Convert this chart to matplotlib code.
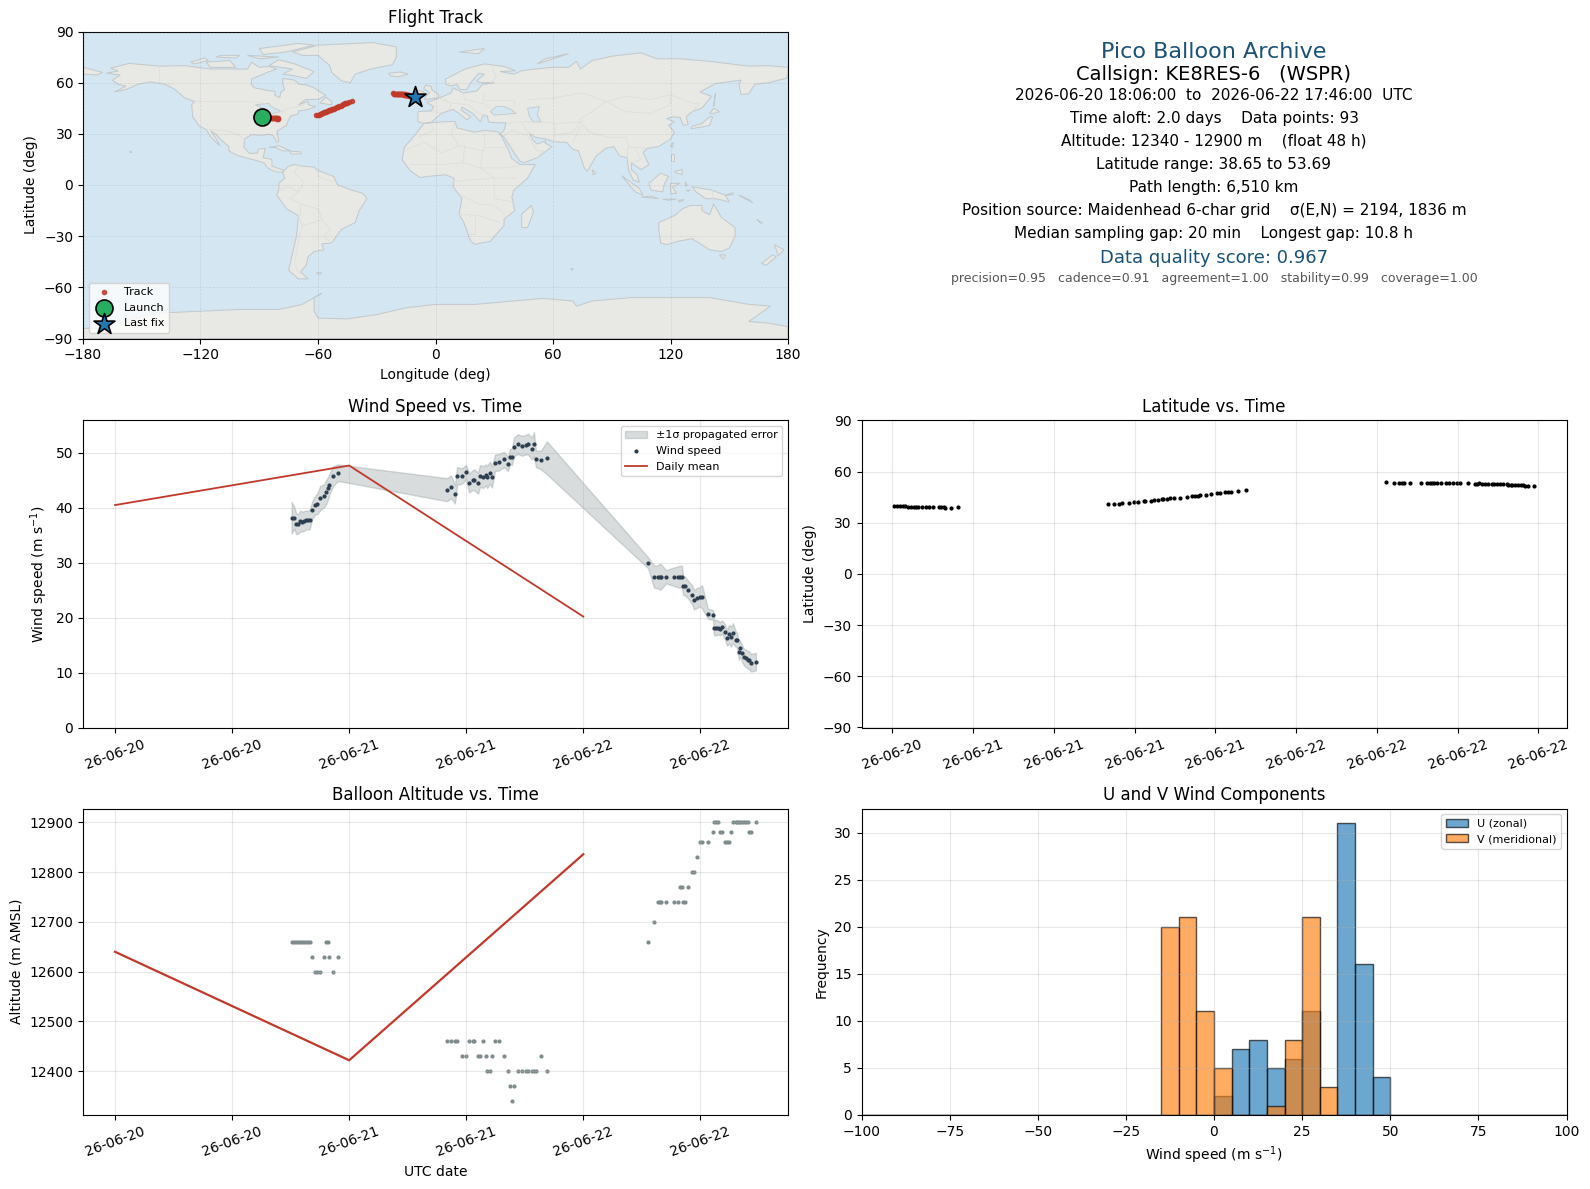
from datetime import datetime, timedelta
import matplotlib
matplotlib.use('Agg')
import matplotlib.pyplot as plt
import matplotlib.dates as mdates

# hours since 2026-06-20 00:00 UTC
t_hours = [
  18.10, 18.37, 18.57, 18.78, 18.98, 19.19, 19.39, 19.60, 19.80, 19.94,
  20.21, 20.52, 20.72, 21.03, 21.44, 21.65, 21.85, 21.95, 22.36, 22.87,
  34.03, 34.44, 34.85, 35.06, 35.57, 35.98, 36.29, 36.70, 36.80, 37.21,
  37.41, 37.72, 38.03, 38.13, 38.44, 38.64, 38.95, 39.36, 39.87, 40.28,
  40.48, 40.69, 40.89, 41.30, 41.71, 42.12, 42.33, 42.74, 42.94, 43.15,
  43.66, 44.27,
  54.64, 55.26, 55.67, 55.87, 56.01, 56.49, 57.31, 57.71, 57.92, 58.12,
  58.23, 58.43, 58.74, 59.15, 59.35, 59.66, 59.97, 60.17, 60.78, 61.30,
  61.40, 61.60, 61.81, 62.01, 62.22, 62.53, 62.73, 62.94, 63.14, 63.34,
  63.65, 63.75, 63.96, 64.06, 64.27, 64.47, 64.68, 64.88, 64.98, 65.19,
  65.70]
wind = [
  38.2, 38.2, 37.1, 37.1, 37.6, 37.5, 37.6, 37.8, 37.8, 37.8,
  39.6, 40.5, 40.7, 41.8, 42.2, 42.9, 43.6, 44.2, 45.8, 46.4,
  43.3, 43.8, 42.5, 45.8, 45.8, 46.5, 44.5, 45.1, 45.1, 44.5,
  45.8, 45.6, 46.0, 45.6, 46.4, 45.6, 48.2, 48.3, 48.8, 48.0,
  49.3, 49.3, 51.1, 51.6, 51.3, 51.5, 51.6, 50.8, 51.6, 48.9,
  48.7, 49.1,
  30.0, 27.45, 27.45, 27.45, 27.45, 27.45, 27.45, 27.45, 27.45, 27.45,
  25.8, 25.8, 25.1, 24.2, 23.3, 23.6, 23.8, 23.8, 20.7, 20.5,
  18.2, 18.2, 18.2, 18.0, 18.3, 17.4, 16.3, 17.0, 16.5, 17.2,
  16.0, 16.0, 13.8, 14.4, 13.5, 12.8, 12.6, 12.3, 12.3, 11.8,
  12.0]
wind_err = [
  2.9, 2.0, 1.9, 1.8, 1.9, 1.8, 1.8, 1.7, 1.7, 1.8,
  1.6, 1.7, 1.9, 2.2, 2.1, 2.2, 2.0, 1.9, 1.8, 1.5,
  2.1, 2.1, 1.7, 1.6, 1.4, 1.3, 1.7, 1.8, 1.9, 1.9,
  2.0, 2.0, 1.9, 2.0, 2.0, 1.9, 1.5, 1.5, 1.4, 1.3,
  1.4, 1.5, 1.7, 1.8, 1.8, 1.8, 1.9, 2.0, 2.2, 1.5,
  1.7, 3.0,
  1.0, 2.0, 2.1, 2.4, 2.2, 1.2, 1.7, 1.9, 2.0, 2.0,
  1.7, 1.7, 1.6, 1.7, 1.8, 1.8, 1.8, 2.1, 0.9, 0.9,
  1.4, 1.4, 1.3, 1.2, 1.2, 1.4, 1.4, 1.7, 1.8, 1.8,
  1.4, 1.3, 1.5, 1.5, 1.5, 1.5, 1.6, 1.6, 1.6, 1.6,
  1.6]
altitude = [
  12660, 12660, 12660, 12660, 12660, 12660, 12660, 12660, 12660, 12660,
  12630, 12600, 12600, 12600, 12630, 12660, 12660, 12630, 12600, 12630,
  12460, 12460, 12460, 12460, 12430, 12430, 12460, 12460, 12460, 12430,
  12430, 12460, 12430, 12400, 12400, 12430, 12460, 12460, 12430, 12400,
  12370, 12340, 12370, 12400, 12400, 12400, 12400, 12400, 12400, 12400,
  12430, 12400,
  12660, 12700, 12740, 12740, 12740, 12740, 12740, 12740, 12770, 12770,
  12740, 12740, 12770, 12800, 12800, 12830, 12860, 12860, 12860, 12880,
  12900, 12900, 12900, 12880, 12880, 12860, 12860, 12860, 12880, 12900,
  12900, 12900, 12900, 12900, 12900, 12900, 12900, 12900, 12880, 12880,
  12900]
latitude = [
  39.6, 39.6, 39.6, 39.6, 39.6, 39.5, 39.5, 39.5, 39.5, 39.4,
  39.2, 39.1, 39.0, 39.0, 39.1, 39.1, 39.1, 38.9, 38.9, 39.0,
  41.2, 41.3, 41.3, 41.6, 41.8, 42.2, 42.3, 42.7, 42.8, 43.0,
  43.2, 43.5, 43.8, 43.9, 44.1, 44.3, 44.5, 44.7, 45.2, 45.5,
  45.7, 46.0, 46.3, 46.6, 47.0, 47.5, 47.7, 47.9, 48.0, 48.2,
  48.6, 49.3,
  53.7, 53.6, 53.6, 53.6, 53.5, 53.6, 53.6, 53.6, 53.6, 53.6,
  53.6, 53.6, 53.6, 53.5, 53.6, 53.5, 53.6, 53.5, 53.5, 53.0,
  53.0, 53.1, 53.0, 53.0, 52.9, 52.7, 52.7, 52.7, 52.6, 52.7,
  52.6, 52.4, 52.3, 52.2, 52.1, 52.1, 52.0, 51.9, 51.8, 51.6,
  51.4]
longitude = [
  -87.9, -87.2, -86.5, -86.0, -85.5, -85.0, -84.6, -84.2, -83.8, -83.5,
  -83.1, -82.7, -82.4, -82.0, -81.6, -81.3, -81.1, -80.9, -80.6, -80.3,
  -60.8, -60.1, -59.6, -59.2, -58.5, -57.9, -57.4, -56.7, -56.4, -55.8,
  -55.4, -54.9, -54.3, -54.1, -53.5, -53.1, -52.6, -52.0, -51.2, -50.5,
  -50.1, -49.7, -49.3, -48.5, -47.7, -47.2, -46.7, -46.3, -45.6, -45.1,
  -44.2, -42.6,
  -21.8, -21.4, -21.0, -20.7, -20.4, -19.9, -19.5, -19.2, -18.9, -18.7,
  -18.5, -18.3, -18.0, -17.7, -17.5, -17.2, -16.9, -16.7, -16.2, -15.9,
  -15.7, -15.5, -15.3, -15.1, -14.9, -14.6, -14.4, -14.2, -14.0, -13.8,
  -13.5, -13.3, -13.0, -12.8, -12.5, -12.2, -12.0, -11.7, -11.4, -11.0,
  -10.3]

launch_lon, launch_lat = -88.8, 39.6
daily_hours = [0, 24, 48]
daily_wind = [40.5, 47.7, 20.2]
daily_alt = [12640, 12422, 12836]

hist_edges = list(range(-100, 105, 5))
hist_centers = [e + 2.5 for e in hist_edges[:-1]]
# counts per 5 m/s bin, keyed by left edge
u_counts = {0: 2, 5: 7, 10: 8, 15: 5, 20: 6, 25: 11, 35: 31, 40: 16, 45: 4}
v_counts = {-15: 20, -10: 21, -5: 11, 0: 5, 15: 1, 20: 8, 25: 21, 30: 3}

north_america = [(-166, 68.5), (-156.5, 71.3), (-141, 69.7), (-128, 70), (-115, 68), (-108, 68), (-96, 68), (-94, 72),
  (-90, 69), (-85, 69.5), (-81, 68), (-86, 66), (-94, 62), (-94, 59), (-92.5, 57), (-85, 55.3), (-82, 55), (-82, 52.5),
  (-79.5, 51.3), (-79, 54.5), (-77, 56), (-78, 59), (-78, 62.5), (-72, 61.5), (-69.5, 59), (-66, 58.7), (-62, 57),
  (-56, 52.5), (-60, 50.2), (-66.5, 50), (-70, 47), (-65, 49), (-65, 47), (-61, 46), (-66, 44), (-70, 43.5), (-70, 41.7),
  (-74, 40.5), (-75.5, 37), (-76, 35), (-81, 31.5), (-80, 26), (-81, 25), (-83, 29), (-85, 29.7), (-89.5, 29.2),
  (-94, 29.5), (-97.5, 27), (-97.8, 22), (-95, 18.5), (-91, 18.7), (-90.5, 21), (-87, 21.5), (-88, 16), (-83.5, 15),
  (-83.5, 11), (-79.5, 9.5), (-77.3, 8.5), (-78, 7.5), (-80.5, 7.5), (-83, 8.3), (-85.7, 10), (-87.5, 13), (-92, 14.5),
  (-96, 15.7), (-101.5, 17.5), (-105.5, 20), (-105.5, 22.5), (-109, 26), (-112.5, 30), (-114.8, 31.8), (-112, 27),
  (-110, 23), (-112, 25), (-115, 28.5), (-117, 32.5), (-120.5, 34.5), (-124, 40), (-124.5, 47), (-123, 49), (-128, 51),
  (-133, 56), (-138, 59), (-146, 60.5), (-152, 59), (-158, 56), (-164, 54.5), (-158, 58), (-162, 59), (-165, 61.5),
  (-161, 64.5), (-168, 65.6), (-162, 66.8)]
south_america = [(-77.3, 8.5), (-75, 11), (-72, 12), (-68, 11), (-62, 10.5), (-60, 8.5), (-52, 5), (-50, 0), (-44, -2.5),
  (-37, -5), (-35, -8), (-39, -15), (-41, -22), (-48, -26), (-53, -34), (-58, -34.5), (-57, -38), (-62, -39), (-65, -42),
  (-66, -47), (-69, -51), (-65, -55), (-70, -55), (-75, -50), (-73, -40), (-71, -30), (-70, -18), (-76, -14), (-81, -6),
  (-80, -2.5), (-80, 1), (-77, 4), (-78, 7.5)]
africa = [(-6, 36), (3, 37), (10, 37.3), (11, 33.5), (15, 32.3), (20, 31), (25, 32), (32, 31.2), (34, 28), (37, 21),
  (39, 15.5), (43, 12), (51, 12), (47, 4), (40, -3), (39, -7), (40.5, -15), (35, -20), (35, -24), (32.5, -27), (28, -33),
  (20, -34.8), (18, -33), (14.5, -22), (12, -17), (13.5, -8), (9, -1), (9.5, 4), (5, 6), (-4, 5), (-8, 4.4), (-13, 8.5),
  (-17, 14.7), (-16, 22), (-10, 30)]
eurasia = [(-9, 37), (-6, 36.2), (-2, 36.8), (0, 39), (3, 42), (6, 43.2), (9, 44.3), (12, 42), (16, 38.2), (18, 40),
  (13, 44), (13.5, 45.7), (19, 42), (23, 37), (24, 40.5), (26.5, 40.5), (27, 37), (31, 36.5), (36, 36.5), (35, 32),
  (33, 30), (35, 28), (39, 21), (43, 14), (45, 13), (52, 16), (59.5, 22.5), (56, 24.5), (56.2, 26), (52, 24), (50, 26),
  (48, 30), (51, 28), (56, 27), (61, 25.3), (67, 25), (70, 21), (73, 20), (76, 10), (77.5, 8), (80, 13), (82, 17),
  (87, 21.5), (91, 22.5), (94, 17), (98, 16), (98.5, 9), (101, 3), (104, 1.5), (103, 6), (100, 9), (100, 13), (105, 9),
  (109, 12), (106, 19), (108, 21.5), (114, 22.5), (120, 27), (122, 31), (119, 35), (122, 37), (118, 39), (121, 40),
  (125, 39.5), (126.5, 35), (129, 35.5), (128, 40), (131, 43), (136, 45), (141, 52), (135, 54.5), (143, 59.5),
  (156, 61.5), (155, 59), (156, 53), (160, 53.5), (163, 59), (170, 60), (179, 62.5), (180, 65), (180, 69), (170, 70),
  (160, 69.7), (140, 72.5), (125, 74), (113, 74), (105, 77.5), (90, 75.5), (80, 73), (74, 68), (72, 72.5), (68, 69), (60, 69),
  (55, 68.5), (44, 67), (40, 65), (33, 66.5), (41, 67), (35, 69.5), (25, 71), (15, 68), (5, 62), (5.5, 59), (8, 58),
  (11, 59), (12.5, 56), (16, 56), (18, 60), (22, 65.5), (25, 65), (21, 61), (23, 60), (30, 60), (24, 59), (21, 55),
  (14, 54), (9, 57), (8, 54), (4, 52), (-1.5, 49.5), (-4.5, 48.5), (-1, 46), (-2, 43.5), (-9, 43)]
greenland = [(-73, 78), (-60, 82), (-32, 83.5), (-20, 81), (-20, 75), (-22, 70.5), (-33, 68), (-41, 65), (-43.5, 60),
  (-48, 61), (-53, 66), (-54, 70), (-60, 76), (-68, 76)]
australia = [(114, -22), (122, -18), (126, -14), (130, -12), (136, -12), (136, -15), (140, -17.5), (142, -11), (146, -19),
  (153, -25), (153, -30), (150, -37), (146, -39), (140, -38), (136, -35), (131, -31.5), (124, -33), (118, -35), (115, -34),
  (114, -26)]
antarctica = [(-180, -84), (-165, -84), (-160, -80), (-150, -77), (-140, -75), (-120, -74), (-100, -73), (-80, -73),
  (-68, -70), (-58, -63.5), (-62, -66), (-62, -74), (-60, -78), (-45, -78.5), (-30, -76), (-15, -72), (0, -70), (20, -70),
  (40, -68), (55, -66.5), (70, -68), (72, -71), (80, -68), (100, -66), (120, -66), (140, -66), (160, -70), (171, -71),
  (165, -76), (160, -80), (170, -81), (180, -83), (180, -90), (-180, -90)]
islands = [
  [(-80, 73.5), (-72, 71), (-62, 66.5), (-66, 62.5), (-72, 64), (-78, 65), (-73, 68), (-85, 70)],
  [(-117, 72), (-105, 73), (-102, 69), (-115, 69)],
  [(-90, 80), (-70, 83), (-62, 82), (-76, 78), (-88, 76.5)],
  [(-125, 72), (-118, 74.5), (-116, 73), (-123, 71)],
  [(-96, 76), (-80, 75), (-90, 74)],
  [(-110, 76), (-100, 76), (-102, 74.5), (-112, 75)],
  [(-59, 48), (-53, 47), (-53, 49), (-56, 51.5)],
  [(-85, 22), (-80, 23), (-74, 20), (-78, 20), (-82, 22)],
  [(-74, 19.8), (-69, 19.5), (-68.5, 18.3), (-74, 18.2)],
  [(-156, 20), (-155, 19.2), (-156, 19)],
  [(-24, 65.5), (-18, 66.3), (-14, 65), (-19, 63.4), (-23, 64)],
  [(-5.5, 50), (1.4, 51.2), (1.7, 52.8), (-2, 56), (-2, 57.7), (-5, 58.6), (-6, 56.5), (-3, 54), (-5, 52)],
  [(-10, 52), (-6, 52.2), (-6, 55), (-8.5, 55.2), (-10, 54)],
  [(-180, 65), (-173, 64.5), (-170, 66), (-180, 69)],
  [(52, 71), (68, 77), (56, 74)],
  [(12, 78), (25, 80), (22, 77)],
  [(142, 46), (143, 54), (142.5, 50)],
  [(130.5, 33), (136, 34), (140, 35), (141.5, 40), (140, 40), (136, 36), (131, 34.5)],
  [(140, 42), (142, 45), (145, 43), (142, 42)],
  [(120, 23), (121.5, 25), (121, 22)],
  [(120, 18), (122, 18), (122, 14), (120, 14)],
  [(122, 8), (126, 9), (126, 6), (123, 7)],
  [(80, 9), (82, 7), (80.5, 6)],
  [(95, 5.5), (104, -2), (106, -6), (102, -4)],
  [(105, -7), (114, -8), (110, -6.5)],
  [(109, 1), (115, 7), (119, 5), (117, 1), (116, -4), (110, -3)],
  [(120, 1), (125, 1), (121, -1), (123, -5), (120, -5)],
  [(131, -1), (141, -3), (148, -6), (150, -10), (143, -8), (138, -8), (133, -4)],
  [(145, -41), (148, -41), (147, -43.5)],
  [(173, -35), (178, -38), (175, -41.5), (174, -38)],
  [(172, -41), (174, -42), (169, -47), (166.5, -46)],
  [(49, -12), (50, -16), (47, -25), (44, -25), (44, -17)],
  [(-61, -51.5), (-58, -51.5), (-59, -52.3)],
  [(69, -49), (70.5, -49.2), (69.5, -50)],
  [(148, -6), (152, -4.5), (152, -5.7)],
  [(155, -6), (160, -8.5), (162, -10.5), (158, -8)],
  [(164, -20), (167, -22.5), (165.5, -22)],
  [(116, -8.3), (123, -8.3), (119, -9)],
  [(124, -9), (127, -8.5), (124.5, -10)],
  [(128, -3), (130, -3), (129, -3.6)],
  [(127.5, 2), (128.5, 0), (127.8, -1)],
]
water = [
  [(28, 43), (31, 46), (35, 46), (39, 44), (41, 42), (36, 41.5), (30, 41)],
  [(47, 45), (53, 46), (52, 41), (54, 37), (50, 37), (48, 40)],
  [(-92, 47), (-85, 48), (-84, 46), (-80, 44), (-79, 43), (-83, 42), (-87, 42), (-88, 45)],
]
borders = [
  [(-123, 49), (-95, 49), (-88, 48), (-83, 46), (-82, 42), (-79, 43), (-75, 45), (-70, 46), (-67, 47)],
  [(-117, 32.5), (-106, 31.7), (-101, 29.5), (-97, 26)],
  [(-141, 70), (-141, 60), (-135, 59)],
  [(-70, 12), (-72, 7), (-67, 2), (-70, -4), (-74, -8), (-69, -11), (-69, -18)],
  [(-60, 8), (-60, 5), (-52, 2)],
  [(-69, -11), (-60, -14), (-58, -20), (-54, -26), (-57, -30), (-53, -34)],
  [(-70, -18), (-68, -24), (-70, -33), (-72, -45), (-70, -52)],
  [(-58, -20), (-62, -22), (-68, -24)],
  [(-80, -3), (-75, -1), (-70, -4)],
  [(-9, 28), (-1, 32), (-2, 35)],
  [(10, 37), (8, 30), (12, 23), (25, 20), (25, 32)],
  [(25, 22), (37, 22)],
  [(-16, 20), (-6, 25), (3, 19), (12, 23)],
  [(-12, 12), (3, 12), (14, 13), (23, 10), (34, 10), (42, 11)],
  [(14, 13), (15, 23)],
  [(24, 20), (23, 10), (30, 4), (35, 4), (41, 4)],
  [(9, 2), (18, 3), (30, 4), (30, -8), (40, -10)],
  [(13, -6), (22, -11), (30, -12), (35, -17)],
  [(12, -17), (22, -18), (33, -22)],
  [(20, -18), (20, -29), (17, -29)],
  [(-2, 43), (3, 42.5)],
  [(2, 51), (8, 48), (7, 44)],
  [(14, 54), (15, 50), (24, 48), (28, 45)],
  [(8, 48), (17, 47), (22, 42), (26, 41)],
  [(24, 54), (24, 50), (40, 50), (40, 47)],
  [(28, 60), (31, 63), (29, 69)],
  [(47, 50), (60, 51), (75, 54), (87, 49), (98, 52), (110, 50), (120, 53), (131, 48), (135, 48), (131, 43)],
  [(87, 49), (80, 43), (74, 39), (75, 35), (79, 31), (88, 28), (97, 28), (99, 22), (102, 22), (108, 21.5)],
  [(87, 49), (97, 43), (110, 42), (120, 47), (120, 53)],
  [(54, 37), (61, 36), (61, 30), (61, 25)],
  [(61, 36), (74, 37), (70, 31), (61, 29)],
  [(74, 34), (70, 25)],
  [(44, 37), (46, 33), (48, 30)],
  [(36, 36), (42, 37), (44, 37), (54, 37)],
  [(35, 29), (39, 32), (47, 29), (52, 20), (55, 20), (52, 16)],
  [(98, 22), (98, 16)],
  [(102, 22), (105, 15), (100, 13)],
  [(141, -3), (141, -9)],
]

land_polys = [north_america, south_america, africa, eurasia, greenland, australia, antarctica] + islands

LAND = '#e8e8e4'
OCEAN = '#d4e6f1'
COAST = '#c2c8cb'
RED = '#c0392b'
DARK = '#2c3e50'
GREY = '#7f8c8d'
NAVY = '#1a5276'
W, H = 1590, 1189
LEFT_COL = (83, 788)
RIGHT_COL = (861.5, 1566.5)


def place(col, top, bottom):
  return fig.add_axes([col[0] / W, 1 - bottom / H, (col[1] - col[0]) / W, (bottom - top) / H])


def to_dates(hours):
  base = datetime(2026, 6, 20)
  return [base + timedelta(hours=h) for h in hours]


def date_axis(ax, hours):
  ax.xaxis.set_major_locator(mdates.HourLocator(byhour=hours))
  ax.xaxis.set_major_formatter(mdates.DateFormatter('%y-%m-%d'))
  ax.tick_params(axis='x', labelrotation=20)
  ax.grid(True, alpha=0.3)


times = to_dates(t_hours)
daily_times = to_dates(daily_hours)

fig = plt.figure(figsize=(W / 100, H / 100), dpi=100)

# flight track
ax = place(LEFT_COL, 31.5, 338.5)
ax.set_facecolor(OCEAN)
for poly in land_polys:
  xs, ys = zip(*poly)
  ax.fill(xs, ys, facecolor=LAND, edgecolor=COAST, linewidth=0.7, zorder=1)
for poly in water:
  xs, ys = zip(*poly)
  ax.fill(xs, ys, facecolor=OCEAN, edgecolor=COAST, linewidth=0.6, zorder=1.1)
for line in borders:
  xs, ys = zip(*line)
  ax.plot(xs, ys, color='#dededa', linewidth=0.6, zorder=1.2)
ax.scatter(longitude, latitude, s=9, color=RED, alpha=0.85, zorder=3, label='Track')
ax.scatter([launch_lon], [launch_lat], s=150, color='#27ae60', edgecolor='black', linewidth=1.2, zorder=4, label='Launch')
ax.scatter([longitude[-1]], [latitude[-1]], s=250, marker='*', color='#1f77b4', edgecolor='black', linewidth=1.2, zorder=5, label='Last fix')
ax.set_xlim(-180, 180)
ax.set_ylim(-90, 90)
ax.set_xticks(range(-180, 181, 60))
ax.set_yticks(range(-90, 91, 30))
ax.grid(True, color='gray', linestyle='--', linewidth=0.5, alpha=0.2, zorder=2)
ax.set_axisbelow(False)
ax.set_xlabel('Longitude (deg)')
ax.set_ylabel('Latitude (deg)')
ax.set_title('Flight Track', fontsize=12)
ax.legend(loc='lower left', fontsize=8)

# summary text
ax = place(RIGHT_COL, 31.5, 338.5)
ax.axis('off')
summary = [
  (51.5, 'Pico Balloon Archive', 16, NAVY),
  (74.3, 'Callsign: KE8RES-6   (WSPR)', 14, 'black'),
  (95, '2026-06-20 18:06:00  to  2026-06-22 17:46:00  UTC', 11, 'black'),
  (118.3, 'Time aloft: 2.0 days    Data points: 93', 11, 'black'),
  (141.3, 'Altitude: 12340 - 12900 m    (float 48 h)', 11, 'black'),
  (164.3, 'Latitude range: 38.65 to 53.69', 11, 'black'),
  (187.3, 'Path length: 6,510 km', 11, 'black'),
  (210.3, 'Position source: Maidenhead 6-char grid    \u03c3(E,N) = 2194, 1836 m', 11, 'black'),
  (233.3, 'Median sampling gap: 20 min    Longest gap: 10.8 h', 11, 'black'),
  (258, 'Data quality score: 0.967', 13, NAVY),
  (278.5, 'precision=0.95   cadence=0.91   agreement=1.00   stability=0.99   coverage=1.00', 9, '#555555'),
]
for y, text, size, color in summary:
  ax.text(0.5, (338.5 - y) / 307, text, fontsize=size, color=color, ha='center', va='center', transform=ax.transAxes)

# wind speed
ax = place(LEFT_COL, 420.5, 727.5)
upper = [w + e for w, e in zip(wind, wind_err)]
lower = [w - e for w, e in zip(wind, wind_err)]
ax.fill_between(times, lower, upper, color=GREY, alpha=0.3, label='\u00b11\u03c3 propagated error')
ax.scatter(times, wind, s=4, color=DARK, zorder=3, label='Wind speed')
ax.plot(daily_times, daily_wind, color=RED, linewidth=1.3, label='Daily mean')
ax.set_ylim(0, 55.9)
date_axis(ax, [0, 12])
ax.set_ylabel('Wind speed (m s$^{-1}$)')
ax.set_title('Wind Speed vs. Time', fontsize=12)
ax.legend(loc='upper right', fontsize=8)

# latitude
ax = place(RIGHT_COL, 420.5, 727.5)
ax.scatter(times, latitude, s=4, color='black')
ax.set_ylim(-90, 90)
ax.set_yticks(range(-90, 91, 30))
date_axis(ax, [0, 6, 12, 18])
ax.set_ylabel('Latitude (deg)')
ax.set_title('Latitude vs. Time', fontsize=12)

# altitude
ax = place(LEFT_COL, 808.5, 1115)
ax.scatter(times, altitude, s=4, color=GREY)
ax.plot(daily_times, daily_alt, color=RED, linewidth=1.6)
date_axis(ax, [0, 12])
ax.set_xlabel('UTC date')
ax.set_ylabel('Altitude (m AMSL)')
ax.set_title('Balloon Altitude vs. Time', fontsize=12)

# wind components
ax = place(RIGHT_COL, 808.5, 1115)
u_weights = [u_counts.get(e, 0) for e in hist_edges[:-1]]
v_weights = [v_counts.get(e, 0) for e in hist_edges[:-1]]
ax.hist(hist_centers, bins=hist_edges, weights=u_weights, alpha=0.65, edgecolor='black', label='U (zonal)')
ax.hist(hist_centers, bins=hist_edges, weights=v_weights, alpha=0.65, edgecolor='black', label='V (meridional)')
ax.set_xlim(-100, 100)
ax.grid(True, alpha=0.3)
ax.set_xlabel('Wind speed (m s$^{-1}$)')
ax.set_ylabel('Frequency')
ax.set_title('U and V Wind Components', fontsize=12)
ax.legend(loc='upper right', fontsize=8)

fig.savefig('out.png', dpi=100)
